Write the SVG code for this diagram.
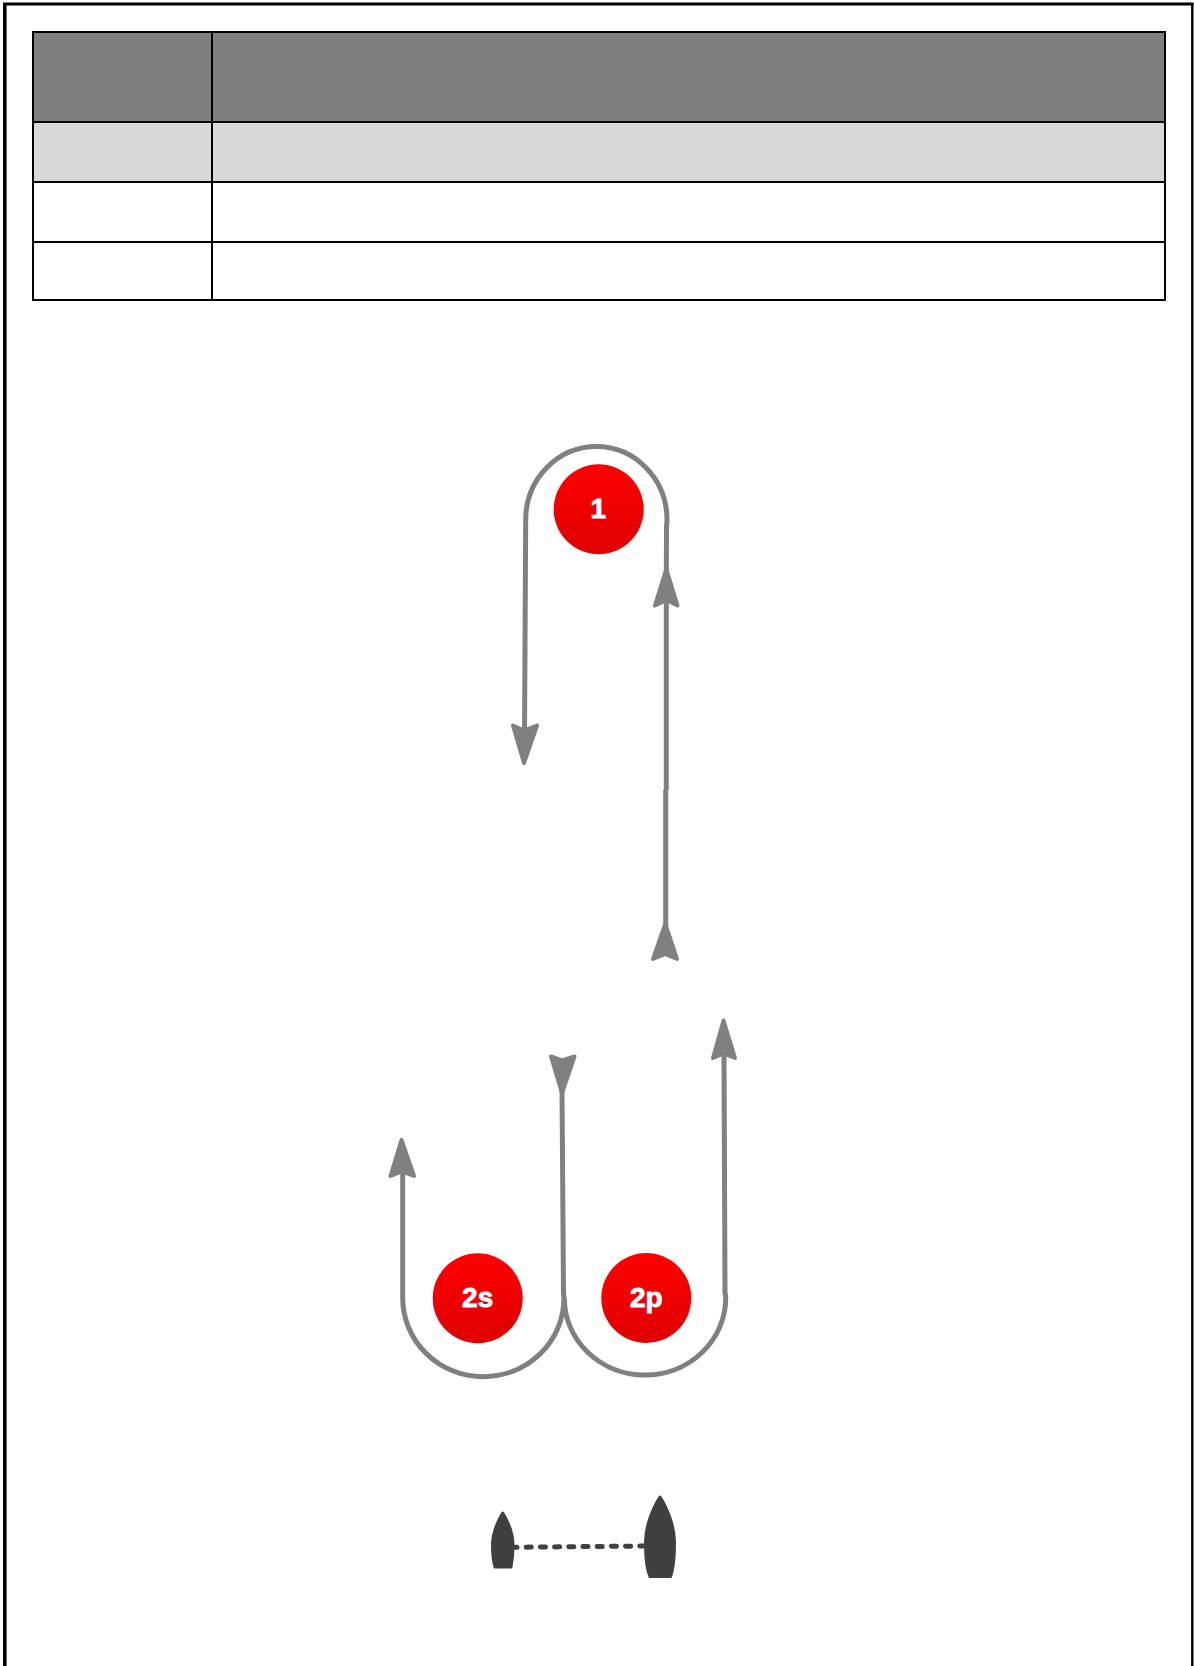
<svg xmlns="http://www.w3.org/2000/svg" width="1194" height="1666" viewBox="0 0 1194 1666">
<style>
.grid{stroke:#000;stroke-width:2;fill:none}
.route{stroke:#808080;stroke-width:5;fill:none}
.head{fill:#808080;stroke:#808080;stroke-width:4;stroke-linejoin:round}
.mark{fill:url(#red)}
.lbl{font-family:"Liberation Sans",Arial,sans-serif;font-weight:700;font-size:28px;fill:#fff;stroke:#fff;stroke-width:.9;text-anchor:middle}
.boat{fill:#404040;stroke:#404040;stroke-width:3;stroke-linejoin:round}
.edge{stroke:#000;fill:none}
</style>
<defs>
<linearGradient id="red" x1="0" y1="0" x2="0" y2="1"><stop offset="0" stop-color="#ff0000"/><stop offset="1" stop-color="#e00000"/></linearGradient>
</defs>
<rect width="1194" height="1666" fill="#fff"/>
<g id="frame">
<path class="edge" stroke-width="3" d="M3 4H1193.5"/>
<path class="edge" stroke-width="3.6" d="M4.8 3V1666"/>
<path class="edge" stroke-width="2.4" d="M1192.3 3V1666"/>
</g>
<g id="table">
<rect x="33" y="32" width="1132" height="90" fill="#7f7f7f"/>
<rect x="33" y="122" width="1132" height="60" fill="#d8d8d8"/>
<path class="grid" d="M33 32H1165V300H33ZM33 122H1165M33 182H1165M33 242H1165M212 32V300"/>
</g>
<g id="connectors">
<path class="route" d="M524.5 735L525.7 520A70.65 73.5 0 0 1 667 520C667 523 666.5 525 666.5 527L666.3 575M666.3 600V790M665.7 790V930"/>
<path class="head" d="M666.3 569L677.5 605.5L666.3 600L655 605.5Z"/>
<path class="head" d="M665.3 924L677 959L665.3 954L653 959Z"/>
<path class="head" d="M524 763L513 725.5L524 730.5L537 725.5Z"/>
<path class="route" d="M402.7 1172V1298A80.65 78.7 0 0 0 564 1298C564 1296 563.5 1295 563.5 1293L562 1090"/>
<path class="route" d="M724 1056L725 1293C725.7 1295 725.7 1296 725.7 1298A80.7 77 0 0 1 564.3 1298"/>
<path class="head" d="M401.5 1140L414 1176L402 1171.5L390.5 1176Z"/>
<path class="head" d="M562 1093L574.5 1056.5L562 1060.5L551 1056.5Z"/>
<path class="head" d="M723.5 1020.5L735 1058L723.5 1053.5L713 1058Z"/>
<path d="M512 1547.3L648 1546" fill="none" stroke="#404040" stroke-width="5" stroke-linecap="round" stroke-dasharray="5 9.2"/>
</g>
<g id="mark-1"><circle class="mark" cx="598.7" cy="509.3" r="45"/><text class="lbl" x="598.2" y="517.5">1</text></g>
<g id="mark-2s"><circle class="mark" cx="477.7" cy="1298.3" r="45"/><text class="lbl" x="477.7" y="1306.5">2s</text></g>
<g id="mark-2p"><circle class="mark" cx="646.3" cy="1298" r="45"/><text class="lbl" x="646.3" y="1306.5">2p</text></g>
<g id="boat-small"><path class="boat" d="M502.7 1513C507 1520 513 1533 513 1545C513 1553 512 1562 511 1567H495C493.5 1562 492.5 1553 492.5 1545C492.5 1533 498.5 1520 502.7 1513Z"/></g>
<g id="boat-large"><path class="boat" d="M660 1497C666 1506 674.5 1525 674.5 1542C674.5 1556 673 1570 670.5 1576.5H650C647 1570 645.5 1556 645.5 1542C645.5 1525 654 1506 660 1497Z"/></g>
</svg>
